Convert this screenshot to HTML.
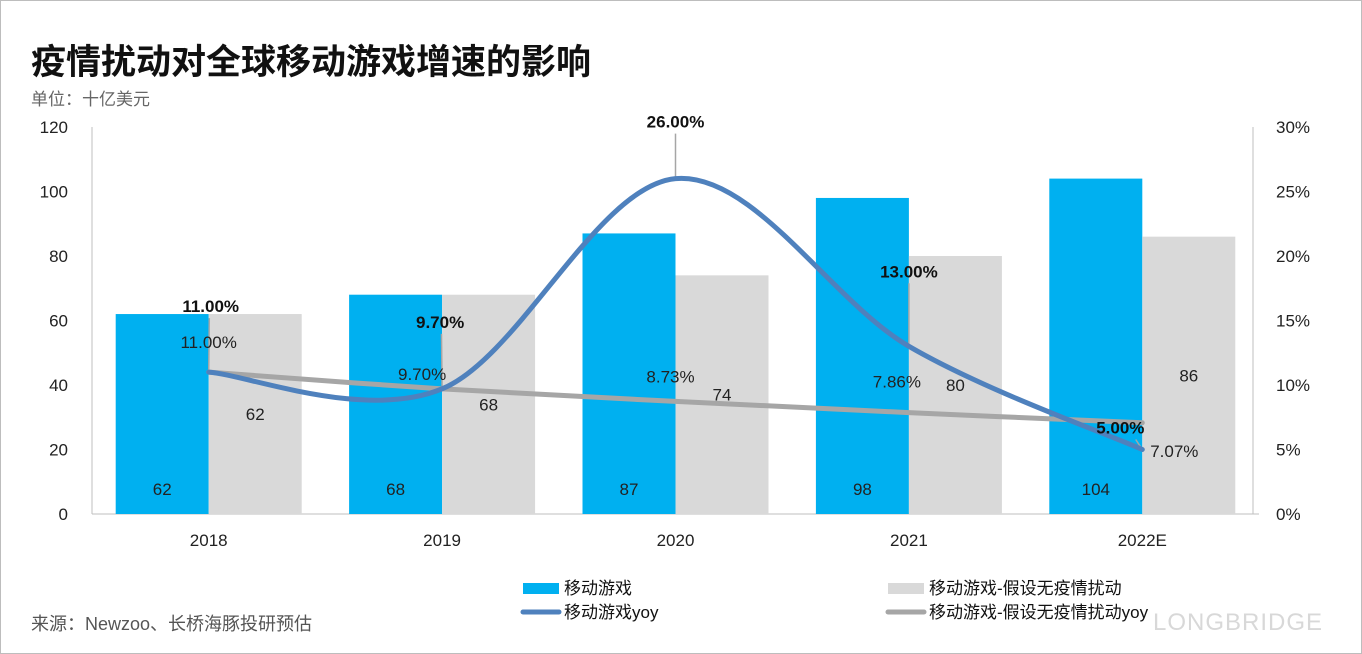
<!DOCTYPE html>
<html><head><meta charset="utf-8">
<style>
body{margin:0;background:#fff;}
#wrap{position:relative;width:1360px;height:652px;border:1px solid #bdbdbd;overflow:hidden;font-family:"Liberation Sans","Noto Sans CJK SC",sans-serif;}
.t{position:absolute;white-space:nowrap;}
</style></head>
<body>
<div id="wrap">
<div class="t" style="left:30px;top:33px;font-size:35px;font-weight:bold;color:#111;">疫情扰动对全球移动游戏增速的影响</div>
<div class="t" style="left:30px;top:84px;font-size:17px;color:#666;">单位：十亿美元</div>
<div class="t" style="left:30px;top:609px;font-size:18px;color:#555;">来源：Newzoo、长桥海豚投研预估</div>
<div class="t" style="left:1152px;top:608px;font-size:24px;color:#d8d8d8;letter-spacing:1px;">LONGBRIDGE</div>
<svg id="chart" width="1362" height="654" style="position:absolute;left:0;top:0"></svg>
</div>
<script>
const categories=["2018","2019","2020","2021","2022E"];
const mobileGame=[62,68,87,98,104];
const noCovidGame=[62,68,74,80,86];
const mobileYoy=[11.00,9.70,26.00,13.00,5.00];
const noCovidYoy=[11.00,9.70,8.73,7.86,7.07];
const leftTicks=[0,20,40,60,80,100,120];
const rightTicks=[0,5,10,15,20,25,30];

const NS="http://www.w3.org/2000/svg";
const svg=document.getElementById('chart');
const X0=91,X1=1258,Y0=513,Y1=126;
const band=(X1-X0)/categories.length;
const cx=i=>X0+band*(i+0.5);
const yL=v=>Y0-(v/120)*(Y0-Y1);
const yR=v=>Y0-(v/30)*(Y0-Y1);
function el(tag,attrs,txt){const e=document.createElementNS(NS,tag);for(const k in attrs)e.setAttribute(k,attrs[k]);if(txt!==undefined)e.textContent=txt;svg.appendChild(e);return e;}
const F='"Liberation Sans","Noto Sans CJK SC",sans-serif';

let a=el('line',{x1:X0,y1:Y1,x2:X0,y2:Y0,stroke:'#bfbfbf'});

a=el('line',{x1:X1-6,y1:Y1,x2:X1-6,y2:Y0,stroke:'#bfbfbf'});

a=el('line',{x1:X0,y1:Y0,x2:X1,y2:Y0,stroke:'#bfbfbf'});

leftTicks.forEach(v=>{const t=el('text',{x:67,y:yL(v)+6,'text-anchor':'end','font-size':17,fill:'#222','font-family':F},v);
});
rightTicks.forEach(v=>{const t=el('text',{x:1275,y:yR(v)+6,'font-size':17,fill:'#222','font-family':F},v+'%');
});
categories.forEach((c,i)=>{const t=el('text',{x:cx(i),y:545,'text-anchor':'middle','font-size':17,fill:'#222','font-family':F},c);
});

const bw=93;
categories.forEach((c,i)=>{
 let b=el('rect',{x:cx(i)-bw,y:yL(mobileGame[i]),width:bw,height:Y0-yL(mobileGame[i]),fill:'#00b0f0'});
 
 b=el('rect',{x:cx(i),y:yL(noCovidGame[i]),width:bw,height:Y0-yL(noCovidGame[i]),fill:'#d9d9d9'});
 
 let t=el('text',{x:cx(i)-bw/2,y:494,'text-anchor':'middle','font-size':17,fill:'#222','font-family':F},mobileGame[i]);
 
 t=el('text',{x:cx(i)+bw/2,y:(yL(noCovidGame[i])+Y0)/2+6,'text-anchor':'middle','font-size':17,fill:'#222','font-family':F},noCovidGame[i]);
 
});

function smooth(pts){let d='M'+pts[0][0]+','+pts[0][1];
 for(let i=0;i<pts.length-1;i++){const p0=pts[i-1]||pts[i],p1=pts[i],p2=pts[i+1],p3=pts[i+2]||p2;
 d+=' C'+(p1[0]+(p2[0]-p0[0])/6)+','+(p1[1]+(p2[1]-p0[1])/6)+' '+(p2[0]-(p3[0]-p1[0])/6)+','+(p2[1]-(p3[1]-p1[1])/6)+' '+p2[0]+','+p2[1];}
 return d;}

const boldOff=[[2,-66],[-2,-67],[0,-57],[0,-75],[-22,-22]];
const grayOff=[[0,-30],[-20,-15],[-5,-25],[-12,-31],[32,28]];
// leader lines
mobileYoy.forEach((v,i)=>{const [dx,dy]=boldOff[i];if(Math.abs(dy)<40&&i<4)return;
 let ln=el('line',{x1:cx(i)+dx*0.3,y1:yR(v)+dy+12,x2:cx(i),y2:yR(v),stroke:'#a6a6a6','stroke-width':1.5});
 });

let gp=noCovidYoy.map((v,i)=>[cx(i),yR(v)]);
let l=el('path',{d:smooth(gp),fill:'none',stroke:'#a6a6a6','stroke-width':5,'stroke-linecap':'round'});

let bp=mobileYoy.map((v,i)=>[cx(i),yR(v)]);
l=el('path',{d:smooth(bp),fill:'none',stroke:'#4f81bd','stroke-width':5,'stroke-linecap':'round'});


mobileYoy.forEach((v,i)=>{const [dx,dy]=boldOff[i];
 let t=el('text',{x:cx(i)+dx,y:yR(v)+dy+6,'text-anchor':'middle','font-size':17,'font-weight':'bold',fill:'#111','font-family':F},v.toFixed(2)+'%');
 });
noCovidYoy.forEach((v,i)=>{const [dx,dy]=grayOff[i];
 let t=el('text',{x:cx(i)+dx,y:yR(v)+dy+6,'text-anchor':'middle','font-size':17,fill:'#222','font-family':F},v.toFixed(2)+'%');
 });

const leg=[['rect','#00b0f0',522,578,'移动游戏','legend-mobile-game'],['rect','#d9d9d9',887,578,'移动游戏-假设无疫情扰动','legend-no-covid'],
['line','#4f81bd',522,602,'移动游戏yoy','legend-mobile-yoy'],['line','#a6a6a6',887,602,'移动游戏-假设无疫情扰动yoy','legend-no-covid-yoy']];
leg.forEach(g=>{let m;
 if(g[0]==='rect')m=el('rect',{x:g[2],y:g[3]+4,width:36,height:11,fill:g[1]});
 else m=el('line',{x1:g[2],y1:g[3]+9,x2:g[2]+36,y2:g[3]+9,stroke:g[1],'stroke-width':5,'stroke-linecap':'round'});
 
 let t=el('text',{x:g[2]+41,y:g[3]+15,'font-size':17,fill:'#111','font-family':F},g[4]);
 });
</script>
</body></html>
